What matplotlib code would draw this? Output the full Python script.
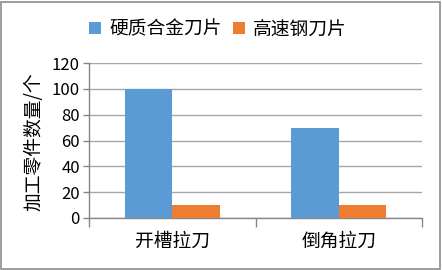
import matplotlib
matplotlib.use("Agg")
import matplotlib.pyplot as plt
from matplotlib.patches import Rectangle

plt.rcParams['font.family'] = ['Noto Sans CJK SC', 'DejaVu Sans']

categories = ["开槽拉刀", "倒角拉刀"]
series_names = ["硬质合金刀片", "高速钢刀片"]
carbide = [100, 70]
hss = [10, 10]
yticks = [0, 20, 40, 60, 80, 100, 120]
ylabel = "加工零件数量/个"

fig = plt.figure(figsize=(4.42, 2.70), dpi=100)
ax = fig.add_axes([89/442, 1-218/270, (422-89)/442, (218-63)/270])

w = 0.285
x = list(range(len(categories)))
b1 = ax.bar([i - w/2 for i in x], carbide, width=w, color="#5B9BD5", label=series_names[0], zorder=3)
b2 = ax.bar([i + w/2 for i in x], hss, width=w, color="#ED7D31", label=series_names[1], zorder=3)

ax.set_xlim(-0.5, len(categories) - 0.5)
ax.set_ylim(0, 120)
ax.set_yticks(yticks)
ax.set_yticklabels([str(v) for v in yticks], fontsize=12)
ax.yaxis.grid(True, color="#A6A6A6", linewidth=1, zorder=0)
ax.set_axisbelow(True)

ax.set_xticks(x)
ax.set_xticklabels(categories, fontsize=13.5)
ax.tick_params(axis='x', which='major', length=0, pad=9)
ax.set_xticks([i - 0.5 for i in range(len(categories) + 1)], minor=True)
ax.tick_params(axis='x', which='minor', length=6.5, color="#868686", width=1)
ax.tick_params(axis='y', length=4.5, color="#868686", width=1, pad=2)

for s in ["top", "right"]:
    ax.spines[s].set_visible(False)
for s in ["left", "bottom"]:
    ax.spines[s].set_color("#868686")
    ax.spines[s].set_linewidth(1)

fig.text(34/442, 1-142/270, ylabel, rotation=90, ha='center', va='center', fontsize=13.5)

fig.legend(handles=[b1, b2], labels=series_names, loc='center', bbox_to_anchor=(218/442, 1-29/270),
           ncol=2, frameon=False, fontsize=13.5, handlelength=0.62, handleheight=0.62,
           handletextpad=0.45, columnspacing=0.6)

fig.patches.append(Rectangle((1/442, 1/270), 439/442, 267/270, transform=fig.transFigure,
                             fill=False, edgecolor="#8C8C8C", linewidth=1.2))

fig.savefig("out.png", dpi=100)
